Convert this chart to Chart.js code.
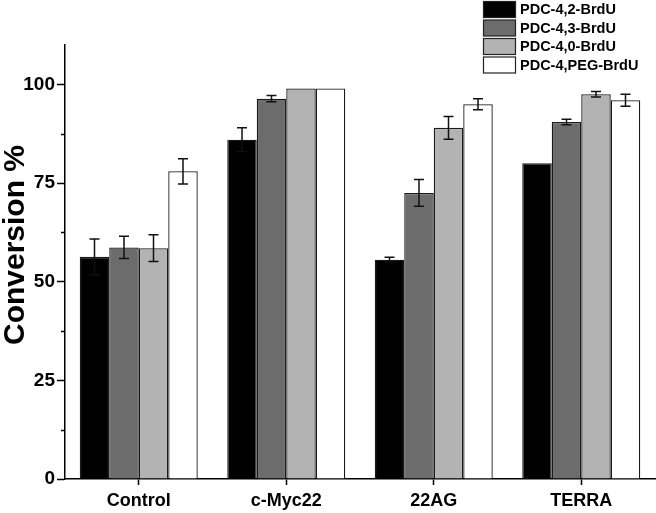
<!DOCTYPE html>
<html>
<head>
<meta charset="utf-8">
<script src="https://cdn.jsdelivr.net/npm/chart.js@4"></script>
<style>
html,body{margin:0;padding:0;background:#fff;}
#wrap{width:656px;height:513px;position:relative;}
</style>
</head>
<body>
<div id="wrap"><canvas id="c" width="656" height="513"></canvas></div>
<script>
const categories = ["Control", "c-Myc22", "22AG", "TERRA"];
const seriesNames = ["PDC-4,2-BrdU", "PDC-4,3-BrdU", "PDC-4,0-BrdU", "PDC-4,PEG-BrdU"];
const val2BrdU   = [56.3, 86.0, 55.6, 80.0];
const val3BrdU   = [58.7, 96.4, 72.5, 90.5];
const val0BrdU   = [58.5, 99.0, 89.0, 97.5];
const valPEGBrdU = [78.0, 99.0, 95.0, 96.0];
const err2BrdU   = [4.5, 3.0, 0.6, 0];
const err3BrdU   = [2.8, 0.8, 3.4, 0.7];
const err0BrdU   = [3.4, 0, 2.9, 0.7];
const errPEGBrdU = [3.2, 0, 1.4, 1.5];
const yTickLabels = [0, 25, 50, 75, 100];
const yMinorTicks = [12.5, 37.5, 62.5, 87.5];
const yTitle = "Conversion %";

const fills = ["#000000", "#6c6c6c", "#b3b3b3", "#ffffff"];
const values = [val2BrdU, val3BrdU, val0BrdU, valPEGBrdU];
const errors = [err2BrdU, err3BrdU, err0BrdU, errPEGBrdU];

const FONT = "'Liberation Sans', Arial, sans-serif";

const errorBarPlugin = {
  id: 'errorBars',
  afterDatasetsDraw(chart) {
    const ctx = chart.ctx;
    const y = chart.scales.y;
    ctx.save();
    ctx.strokeStyle = '#111';
    ctx.lineWidth = 1.5;
    chart.data.datasets.forEach((ds, i) => {
      const meta = chart.getDatasetMeta(i);
      meta.data.forEach((el, j) => {
        const e = ds.errors[j];
        if (!e) return;
        const v = ds.data[j];
        const yt = y.getPixelForValue(v + e);
        const yb = y.getPixelForValue(v - e);
        const x = el.x;
        const hw = 5;
        ctx.beginPath();
        ctx.moveTo(x, yt); ctx.lineTo(x, yb);
        ctx.moveTo(x - hw, yt); ctx.lineTo(x + hw, yt);
        ctx.moveTo(x - hw, yb); ctx.lineTo(x + hw, yb);
        ctx.stroke();
      });
    });
    ctx.restore();
  }
};

const minorTickPlugin = {
  id: 'minorTicks',
  afterDraw(chart) {
    const ctx = chart.ctx;
    const y = chart.scales.y;
    const x0 = chart.chartArea.left;
    ctx.save();
    ctx.strokeStyle = '#000';
    ctx.lineWidth = 1.5;
    yMinorTicks.forEach(v => {
      const py = Math.round(y.getPixelForValue(v)) + 0.5;
      ctx.beginPath();
      ctx.moveTo(x0 - 4, py); ctx.lineTo(x0, py);
      ctx.stroke();
    });
    ctx.restore();
  }
};

const titlePlugin = {
  id: 'yTitle',
  afterDraw(chart) {
    const ctx = chart.ctx;
    ctx.save();
    ctx.translate(16, 245);
    ctx.rotate(-Math.PI / 2);
    ctx.font = "bold 30px " + FONT;
    ctx.fillStyle = '#000';
    ctx.textAlign = 'center';
    ctx.textBaseline = 'middle';
    ctx.fillText(yTitle, 0, 0);
    ctx.restore();
  }
};

const legendPlugin = {
  id: 'customLegend',
  afterDraw(chart) {
    const ctx = chart.ctx;
    ctx.save();
    const bx = 483.5, bw = 32, bh = 16, top0 = 1.5, step = 18.5;
    ctx.font = "bold 14.5px " + FONT;
    ctx.textBaseline = 'middle';
    ctx.textAlign = 'left';
    chart.data.datasets.forEach((ds, i) => {
      const ty = top0 + i * step;
      ctx.fillStyle = ds.backgroundColor;
      ctx.fillRect(bx, ty, bw, bh);
      ctx.strokeStyle = '#222';
      ctx.lineWidth = 1.2;
      ctx.strokeRect(bx, ty, bw, bh);
      ctx.fillStyle = '#000';
      ctx.fillText(ds.label, 520, ty + bh / 2 + 0.5);
    });
    ctx.restore();
  }
};

const datasets = seriesNames.map((name, i) => ({
  label: name,
  data: values[i],
  errors: errors[i],
  backgroundColor: fills[i],
  borderColor: '#1a1a1a',
  borderWidth: 1.3,
  categoryPercentage: 0.8,
  barPercentage: 1.0
}));

new Chart(document.getElementById('c'), {
  type: 'bar',
  data: { labels: categories, datasets },
  options: {
    responsive: false,
    animation: false,
    layout: { padding: { top: 45, right: 1, left: 0, bottom: 0 } },
    plugins: { legend: { display: false }, tooltip: { enabled: false } },
    scales: {
      x: {
        grid: { offset: false, drawOnChartArea: false, tickLength: 6, color: '#000', tickWidth: 1.5 },
        border: { color: '#000', width: 1.5 },
        ticks: { color: '#000', padding: 5, font: { family: FONT, size: 18, weight: 'bold' } },
        afterFit(axis) { axis.height = 34; }
      },
      y: {
        min: 0, max: 110,
        afterBuildTicks(axis) { axis.ticks = yTickLabels.map(v => ({ value: v })); },
        grid: { drawOnChartArea: false, tickLength: 8, color: '#000', tickWidth: 1.5 },
        border: { color: '#000', width: 1.5 },
        ticks: { color: '#000', padding: 2, font: { family: FONT, size: 19, weight: 'bold' } },
        afterFit(axis) { axis.width = 65; }
      }
    }
  },
  plugins: [errorBarPlugin, minorTickPlugin, titlePlugin, legendPlugin]
});
</script>
</body>
</html>
